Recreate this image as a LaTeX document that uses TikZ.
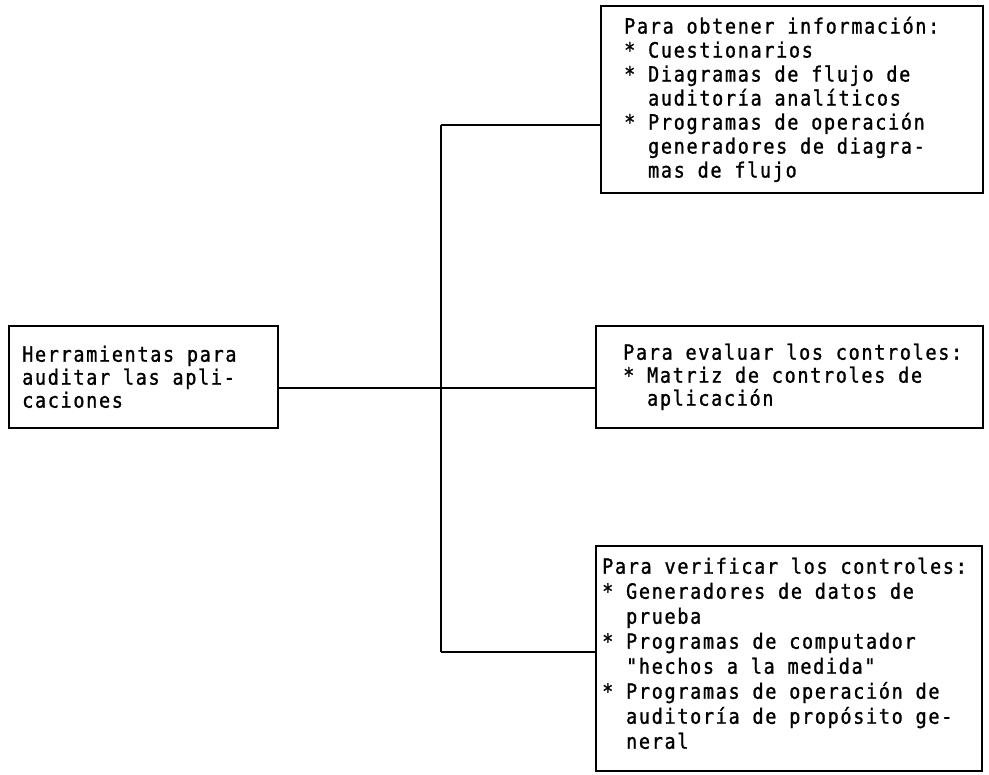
\documentclass[tikz,border=0pt]{standalone}
\usepackage{fontspec}
\usetikzlibrary{calc}
\newfontfamily\typer[FakeStretch=0.88, LetterSpace=8, FakeBold=1.2]{DejaVu Sans Mono}
\newcommand\ind{\hphantom{**}}

\tikzset{
  frame/.style={draw, line width=1.7pt, inner sep=0pt, anchor=north west},
  link/.style={line width=1.7pt},
  txt/.style={anchor=west, inner sep=0pt, align=left},
}

\begin{document}
\begin{tikzpicture}[x=1pt, y=-1pt]
\useasboundingbox (0,0) rectangle (989,775);

% boxes
\node[frame, minimum width=382pt, minimum height=187pt] (b1) at (600,5) {};
\node[frame, minimum width=269pt, minimum height=102pt] (b0) at (8,325) {};
\node[frame, minimum width=387pt, minimum height=102pt] (b2) at (595,325) {};
\node[frame, minimum width=386pt, minimum height=225pt] (b3) at (595,545) {};

% box texts
\node[txt, font=\typer\fontsize{21}{24}\selectfont] (t1) at ($(b1.west)+(24,0)$) {%
Para obtener información:\\
* Cuestionarios\\
* Diagramas de flujo de\\
\ind auditoría analíticos\\
* Programas de operación\\
\ind generadores de diagra-\\
\ind mas de flujo};

\node[txt, font=\typer\fontsize{21}{23}\selectfont] (t0) at ($(b0.west)+(14,0)$) {%
Herramientas para\\
auditar las apli-\\
caciones};

\node[txt, font=\typer\fontsize{21}{23}\selectfont] (t2) at ($(b2.west)+(28,0)$) {%
Para evaluar los controles:\\
* Matriz de controles de\\
\ind aplicación};

\node[txt, font=\typer\fontsize{21}{25}\selectfont] (t3) at ($(b3.west)+(7,-5)$) {%
Para verificar los controles:\\
* Generadores de datos de\\
\ind prueba\\
* Programas de computador\\
\ind "hechos a la medida"\\
* Programas de operación de\\
\ind auditoría de propósito ge-\\
\ind neral};

% tree connectors
\coordinate (top) at (441,125);
\coordinate (mid) at (441,388);
\coordinate (bot) at (441,652);
\draw[link] (top) -- (bot);
\draw[link] (top) -- (top -| b1.west);
\draw[link] (mid -| b0.east) -- (mid -| b2.west);
\draw[link] (bot) -- (bot -| b3.west);
\end{tikzpicture}
\end{document}
